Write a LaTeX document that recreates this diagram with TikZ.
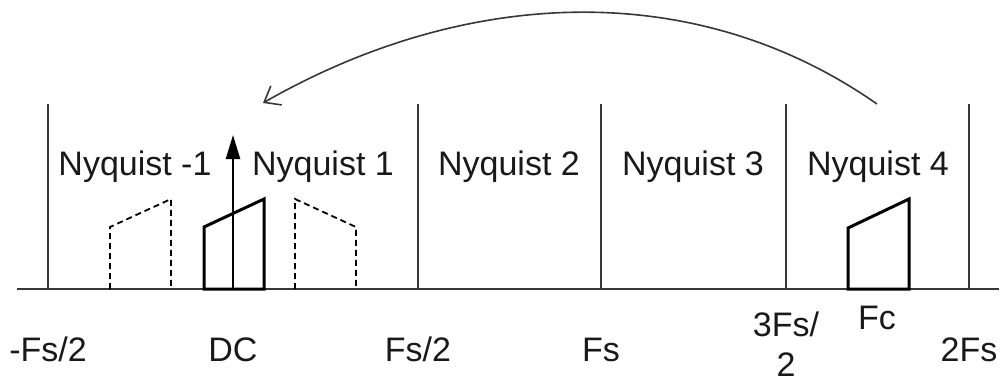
\documentclass[tikz,border=0pt]{standalone}
\usepackage{fontspec}
\setmainfont{Liberation Sans}
\usetikzlibrary{arrows.meta}
\definecolor{axiscolor}{RGB}{55,55,55}
\definecolor{textcolor}{RGB}{25,25,25}

\begin{document}
\begin{tikzpicture}[x=0.5pt, y=-0.5pt,
    zonelabel/.style={font=\fontsize{17}{20}\selectfont, anchor=base, text=textcolor},
    freqlabel/.style={font=\fontsize{17}{20}\selectfont, anchor=base, align=center, inner sep=0.5pt, text=textcolor},
    zoneline/.style={line width=1pt, axiscolor},
    bandshape/.style={line width=1.5pt, black, line join=miter},
    aliasshape/.style={line width=0.9pt, black, dash pattern=on 3pt off 2pt}]

    \useasboundingbox (0,0) rectangle (1003,381);

    % === AXE DES FREQUENCES ===
    \draw[line width=1.2pt, axiscolor] (17,289) -- (999,289);

    % Limites des zones de Nyquist
    \foreach \xpos in {48, 418, 601, 786, 969} {
        \draw[zoneline] (\xpos,104) -- (\xpos,289);
    }

    % === NOMS DES ZONES ===
    \node[zonelabel] (nyqm1) at (135,175) {Nyquist -1};
    \node[zonelabel] (nyq1) at (323,175) {Nyquist 1};
    \node[zonelabel] (nyq2) at (509,175) {Nyquist 2};
    \node[zonelabel] (nyq3) at (693,175) {Nyquist 3};
    \node[zonelabel] (nyq4) at (878,175) {Nyquist 4};

    % === SPECTRES ===
    % Bande autour de DC
    \draw[bandshape] (204,289) -- (204,227) -- (264,199) -- (264,289) -- cycle;
    % Images repliees (pointilles)
    \draw[aliasshape] (110,289) -- (110,227) -- (171,199) -- (171,289);
    \draw[aliasshape] (295,289) -- (295,199) -- (356,227) -- (356,289);
    % Bande a Fc
    \draw[bandshape] (848,289) -- (848,228) -- (909,199) -- (909,289) -- cycle;

    % Raie a DC
    \coordinate (dcbase) at (233,289);
    \coordinate (dctop) at (233,135);
    \draw[line width=1.2pt, -{Triangle[length=12pt, width=7pt]}] (dcbase) -- (dctop);

    % === REPLIEMENT Fc -> DC ===
    \coordinate (arcstart) at (877,104);
    \coordinate (arcend) at (263,103);
    \draw[line width=0.8pt, axiscolor, -{Straight Barb[length=7pt, width=11pt]}]
        (arcstart) .. controls +(-186,-130) and +(197,-113) .. (arcend);

    % === GRADUATIONS ===
    \node[freqlabel] (fsm2) at (48,361) {-Fs/2};
    \node[freqlabel] (dc) at (233,361) {DC};
    \node[freqlabel] (fs2) at (418,361) {Fs/2};
    \node[freqlabel] (fs) at (601,361) {Fs};
    \node[freqlabel] (fs32) at (786,376) {3Fs/\\2};
    \node[freqlabel] (fc) at (877,329) {Fc};
    \node[freqlabel] (fs2x) at (969,361) {2Fs};

\end{tikzpicture}
\end{document}
